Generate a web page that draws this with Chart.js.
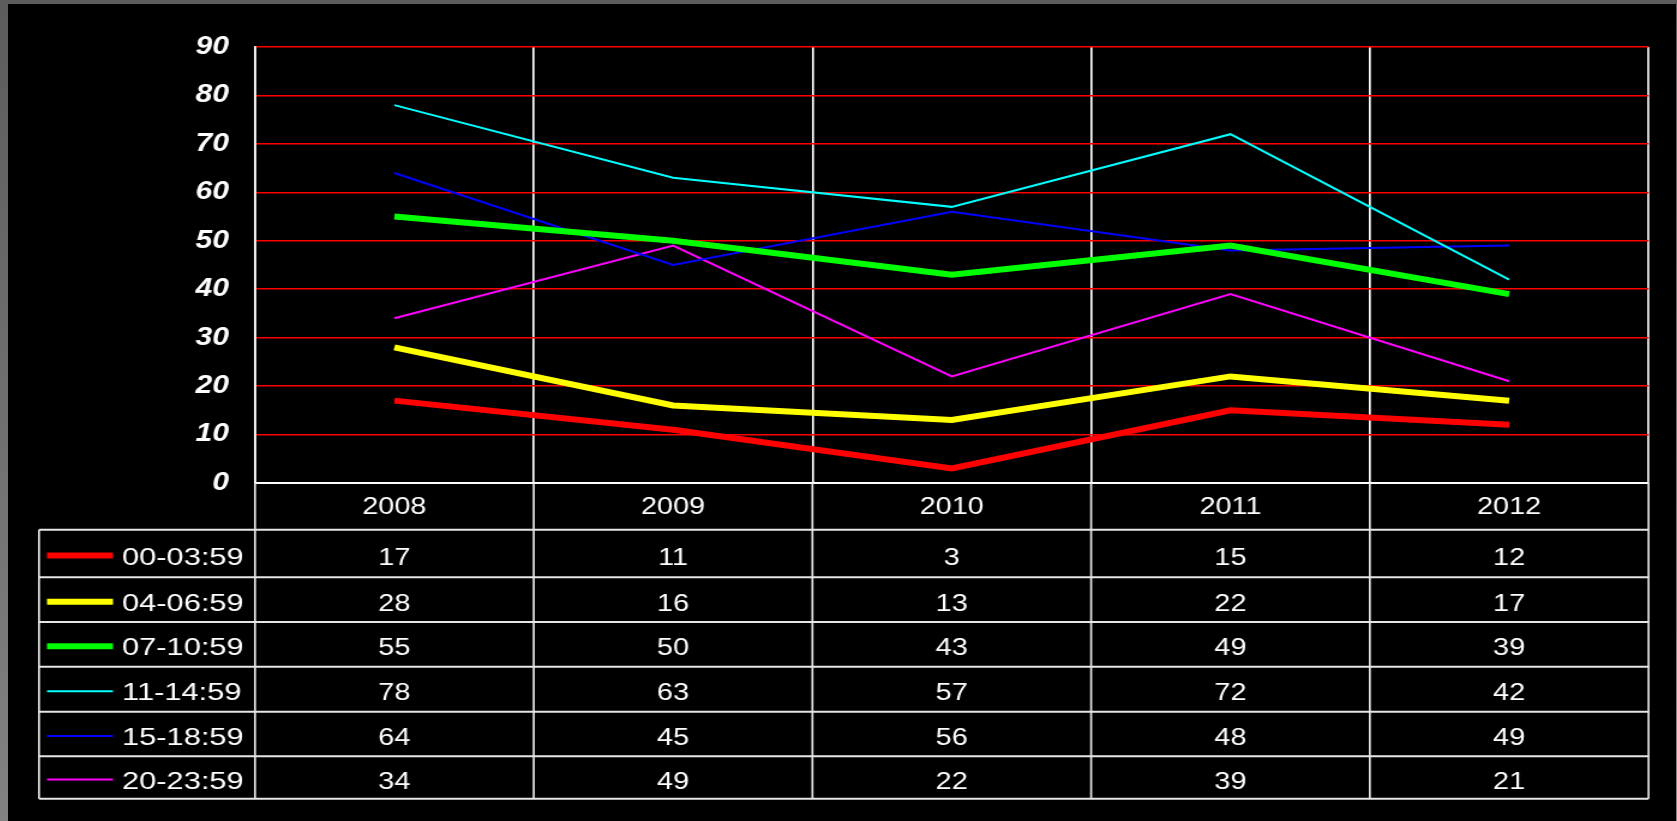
<!DOCTYPE html>
<html>
<head>
<meta charset="utf-8">
<script src="https://cdn.jsdelivr.net/npm/chart.js@4/dist/chart.umd.min.js"></script>
<style>
  html, body { margin: 0; padding: 0; }
  body { width: 1677px; height: 821px; overflow: hidden; background: linear-gradient(#5c5c5c, #828282); position: relative; }
  #wrap { position: absolute; left: 8px; top: 4px; width: 1668px; height: 817px; background: #000; overflow: hidden; }
  /* the original chart was stretched sideways; draw narrow and widen */
  #stretch { width: 1390px; height: 817px; transform: scaleX(1.2); transform-origin: 0 0; }
  canvas { display: block; }
</style>
</head>
<body>
<div id="wrap"><div id="stretch"><canvas id="chart" width="1390" height="817"></canvas></div></div>
<script>
const years = ['2008', '2009', '2010', '2011', '2012'];
const seriesNames = ['00-03:59', '04-06:59', '07-10:59', '11-14:59', '15-18:59', '20-23:59'];
const s0003 = [17, 11, 3, 15, 12];
const s0406 = [28, 16, 13, 22, 17];
const s0710 = [55, 50, 43, 49, 39];
const s1114 = [78, 63, 57, 72, 42];
const s1518 = [64, 45, 56, 48, 49];
const s2023 = [34, 49, 22, 39, 21];
const yMin = 0, yMax = 90, yStep = 10;

const colors = ['#ff0000', '#ffff00', '#00ff00', '#00ffff', '#0000ff', '#ff00ff'];
const widths = [6, 6, 6, 2, 2, 2];
const values = [s0003, s0406, s0710, s1114, s1518, s2023];

const FONT = '"Liberation Sans", Arial, sans-serif';
const SX = 1.2; // horizontal stretch
const TABLE_LEFT = 31 / SX;
const ROW_LINES = [525.7, 573.3, 618, 662.7, 707.7, 752.3, 794.7];

const dataTable = {
  id: 'dataTable',
  afterDraw(chart) {
    const { ctx, chartArea: a, scales: { x } } = chart;
    const half = (x.getPixelForValue(1) - x.getPixelForValue(0)) / 2;
    const bottom = ROW_LINES[ROW_LINES.length - 1];
    ctx.save();
    ctx.strokeStyle = '#e6e6e6';
    ctx.lineWidth = 2 / SX;
    ctx.beginPath();
    for (let i = 0; i <= years.length; i++) {
      const px = i < years.length ? x.getPixelForValue(i) - half : x.getPixelForValue(years.length - 1) + half;
      ctx.moveTo(px, a.bottom); ctx.lineTo(px, bottom);
    }
    ctx.moveTo(TABLE_LEFT, ROW_LINES[0]); ctx.lineTo(TABLE_LEFT, bottom);
    ctx.stroke();
    ctx.lineWidth = 2;
    ctx.beginPath();
    ROW_LINES.forEach((py) => { ctx.moveTo(TABLE_LEFT, py); ctx.lineTo(a.right, py); });
    ctx.stroke();

    ctx.fillStyle = '#fff';
    ctx.font = '24px ' + FONT;
    ctx.textBaseline = 'middle';
    chart.data.datasets.forEach((ds, r) => {
      const mid = (ROW_LINES[r] + ROW_LINES[r + 1]) / 2;
      const cy = mid + 4.5;
      ctx.strokeStyle = ds.borderColor;
      ctx.lineWidth = ds.borderWidth;
      ctx.beginPath(); ctx.moveTo(39 / SX, mid + 2); ctx.lineTo(105 / SX, mid + 2); ctx.stroke();
      // series names are a touch wider than the numbers
      ctx.save();
      ctx.translate(114 / SX, cy);
      ctx.scale(1.07, 1);
      ctx.textAlign = 'left';
      ctx.fillText(ds.label, 0, 0);
      ctx.restore();
      ctx.textAlign = 'center';
      ds.data.forEach((v, i) => ctx.fillText(String(v), x.getPixelForValue(i), cy));
    });
    ctx.restore();
  }
};

new Chart(document.getElementById('chart'), {
  type: 'line',
  data: {
    labels: years,
    datasets: seriesNames.map((name, i) => ({
      label: name,
      data: values[i],
      borderColor: colors[i],
      backgroundColor: colors[i],
      borderWidth: widths[i],
      pointRadius: 0,
      tension: 0,
      fill: false
    }))
  },
  options: {
    responsive: false,
    animation: false,
    devicePixelRatio: 1,
    layout: { padding: { top: 43, right: 27.5 / SX, left: 0, bottom: 0 } },
    plugins: { legend: { display: false }, tooltip: { enabled: false } },
    scales: {
      x: {
        offset: true,
        afterFit: (s) => { s.height = 338; },
        grid: { color: '#ffffff', lineWidth: 2 / SX, drawTicks: false, offset: true },
        border: { color: '#ffffff', width: 2 },
        ticks: { color: '#ffffff', padding: 10, font: { family: FONT, size: 24 } }
      },
      y: {
        min: yMin, max: yMax,
        afterFit: (s) => { s.width = 247 / SX; },
        grid: {
          color: (c) => (c.tick && c.tick.value === 0 ? 'rgba(0,0,0,0)' : '#ff0000'),
          lineWidth: 1.5, drawTicks: false
        },
        border: { color: '#ffffff', width: 2 / SX },
        ticks: {
          stepSize: yStep, color: '#ffffff', padding: 26 / SX,
          font: { family: FONT, size: 25, style: 'italic', weight: 'bold' }
        }
      }
    }
  },
  plugins: [dataTable]
});
</script>
</body>
</html>
